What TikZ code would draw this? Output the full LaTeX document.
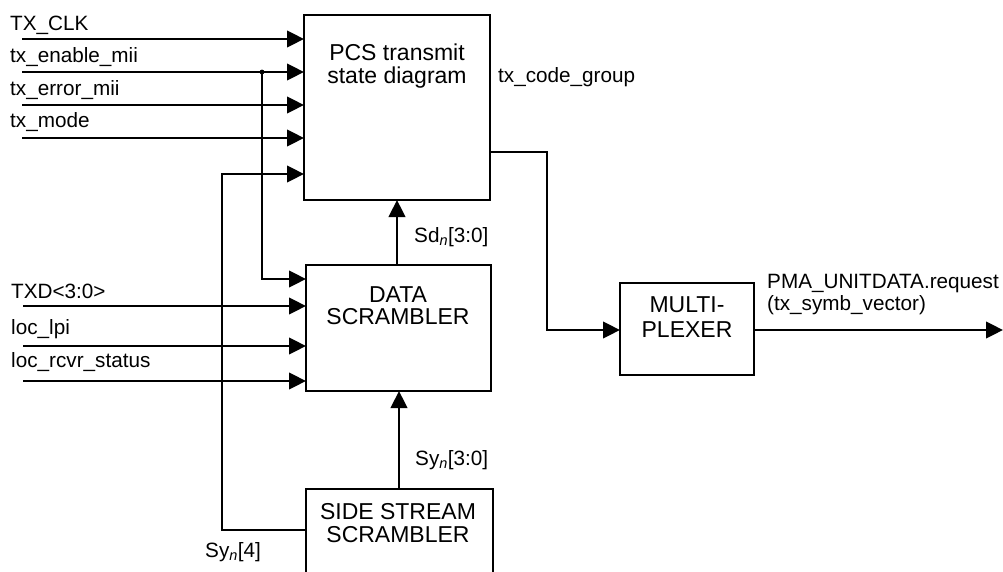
\documentclass[tikz,border=0pt]{standalone}
\usepackage{fontspec}
\setmainfont{Liberation Sans}
\usetikzlibrary{arrows.meta}
\begin{document}
\begin{tikzpicture}[x=1pt,y=-1pt,
  wire/.style={line width=2.3pt},
  arr/.style={wire,-{Triangle[length=17pt,width=16.5pt]}},
  blk/.style={draw,line width=2.3pt,minimum width=#1,inner sep=0pt,outer sep=0pt},
  txt/.style={font=\fontsize{20.7}{23}\selectfont,inner sep=0pt,anchor=base west},
  ctxt/.style={font=\fontsize{23}{26}\selectfont,inner sep=0pt,anchor=base}]
\useasboundingbox (0,0) rectangle (1003,572);
% blocks
\node[blk=186pt,minimum height=185pt] (pcs) at (397,107.5) {};
\node[blk=185pt,minimum height=126pt] (ds) at (398.5,328) {};
\node[blk=187pt,minimum height=111pt] (ss) at (399.5,544.5) {};
\node[blk=134pt,minimum height=92pt] (mux) at (687,329) {};
% block texts
\node[ctxt] (pcs1) at (397,61) {PCS transmit};
\node[ctxt] (pcs2) at (397,84) {state diagram};
\node[ctxt] (ds1) at (398,302) {DATA};
\node[ctxt] (ds2) at (398,324) {SCRAMBLER};
\node[ctxt] (ss1) at (398,519) {SIDE STREAM};
\node[ctxt] (ss2) at (398,542) {SCRAMBLER};
\node[ctxt] (mux1) at (687,312) {MULTI-};
\node[ctxt] (mux2) at (687,337) {PLEXER};
% input labels
\node[txt] (l1) at (10,31) {TX\_CLK};
\node[txt] (l2) at (10,63) {tx\_enable\_mii};
\node[txt] (l3) at (10,96) {tx\_error\_mii};
\node[txt] (l4) at (10,128) {tx\_mode};
\node[txt] (l5) at (11,298) {TXD<3:0>};
\node[txt] (l6) at (11,334) {loc\_lpi};
\node[txt] (l7) at (11,367) {loc\_rcvr\_status};
% other labels
\node[txt] (lcg) at (498,83) {tx\_code\_group};
\node[txt] (lsd) at (414,242) {Sd\textsubscript{\textit{n}}[3:0]};
\node[txt] (lsy) at (415,465) {Sy\textsubscript{\textit{n}}[3:0]};
\node[txt] (lsy4) at (205,557) {Sy\textsubscript{\textit{n}}[4]};
\node[txt] (lpma1) at (767,288) {PMA\_UNITDATA.request};
\node[txt] (lpma2) at (767,310) {(tx\_symb\_vector)};
% input start coordinates
\coordinate (i1) at (22,39);
\coordinate (i2) at (22,72);
\coordinate (i3) at (22,105);
\coordinate (i4) at (22,138);
\coordinate (i5) at (23,306);
\coordinate (i6) at (23,346);
\coordinate (i7) at (23,381);
\coordinate (j1) at (262,72);
\coordinate (out) at (1003,330);
% inputs to PCS
\draw[arr] (i1) -- (i1 -| pcs.west);
\draw[arr] (i2) -- (i2 -| pcs.west);
\draw[arr] (i3) -- (i3 -| pcs.west);
\draw[arr] (i4) -- (i4 -| pcs.west);
\fill (j1) circle (2.4pt);
\draw[arr] (j1) -- (262,279) -- (ds.west |- 0,279);
% inputs to data scrambler
\draw[arr] (i5) -- (i5 -| ds.west);
\draw[arr] (i6) -- (i6 -| ds.west);
\draw[arr] (i7) -- (i7 -| ds.west);
% feedback Sy[4]
\draw[arr] (ss.west |- 0,530) -- (222,530) -- (222,174) -- (pcs.west |- 0,174);
% vertical arrows
\draw[arr] (ds.north -| 397,0) -- (pcs.south -| 397,0);
\draw[arr] (ss.north -| 399,0) -- (ds.south -| 399,0);
% tx_code_group to mux
\draw[arr] (pcs.east |- 0,152) -- (547,152) -- (547,330) -- (mux.west |- 0,330);
% output
\draw[arr] (mux.east |- 0,330) -- (out);
\end{tikzpicture}
\end{document}
